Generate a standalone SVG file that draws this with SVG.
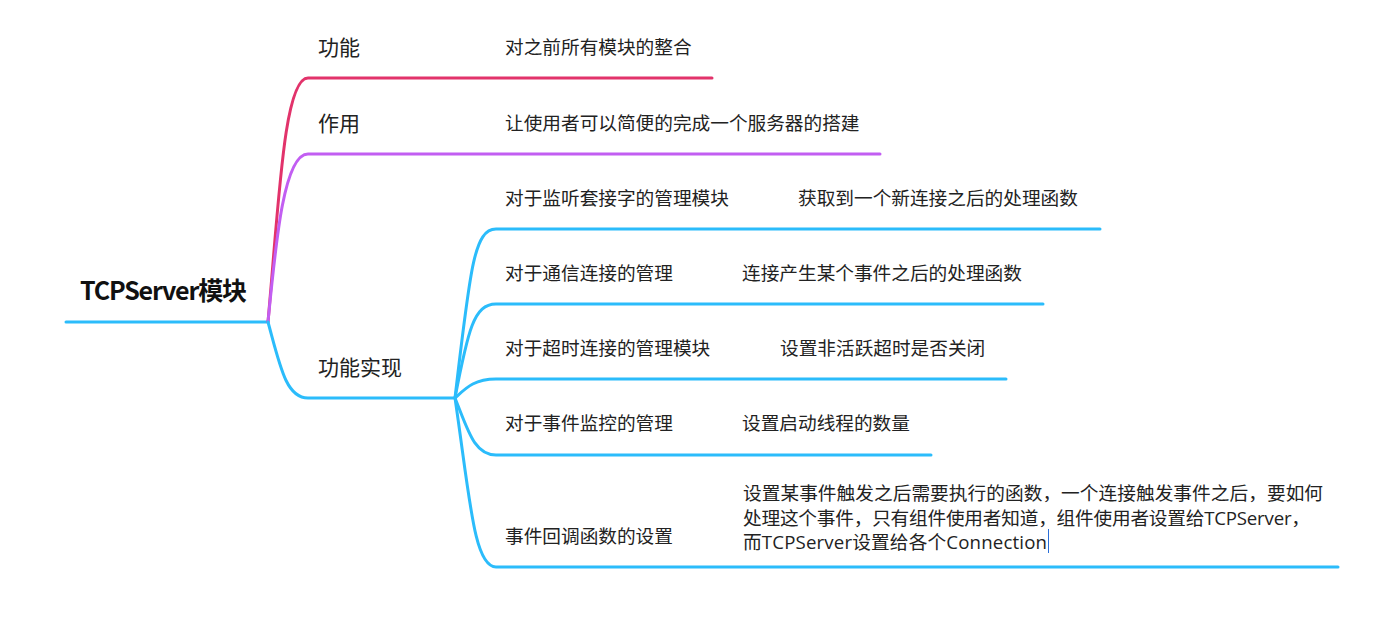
<svg xmlns="http://www.w3.org/2000/svg" width="1397" height="626" viewBox="0 0 1397 626">
<style>
text{font-family:"Open Sans","Noto Sans CJK SC",sans-serif;font-size:18.67px;fill:#222}
.root{font-family:"Noto Sans CJK SC",sans-serif;font-size:25px;font-weight:bold;fill:#111}
.l1{font-size:21px}
.c{fill:none;stroke-width:3;stroke-linecap:round;stroke-linejoin:round}
.red{stroke:#E2336B}
.pur{stroke:#C25EF2}
.blu{stroke:#2BBCFB}
</style>
<rect width="1397" height="626" fill="#fff"/>
<g id="connectors">
<path class="c blu" d="M66,322 H268"/>
<path class="c red" d="M268,322 C279,200 284,78 308,78 H712"/>
<path class="c pur" d="M268,322 C276,240 284,154 308,154 H880"/>
<path class="c blu" d="M268,322 C280,366 286,398 308,398 H455"/>
<path class="c blu" d="M455,398 C470,270 474,229 496,229 H1100"/>
<path class="c blu" d="M455,398 C468,330 474,304 496,304 H1043"/>
<path class="c blu" d="M455,398 C466,388 474,379 496,379 H1006"/>
<path class="c blu" d="M455,398 C468,430 474,455 496,455 H931"/>
<path class="c blu" d="M455,398 C470,500 474,567 496,567 H1338"/>
</g>
<g id="root"><text class="root" x="80" y="300" textLength="167">TCPServer模块</text></g>
<g id="n-gongneng"><text class="l1" x="318" y="55">功能</text></g>
<g id="n-gongneng-d"><text x="505" y="54">对之前所有模块的整合</text></g>
<g id="n-zuoyong"><text class="l1" x="318" y="131">作用</text></g>
<g id="n-zuoyong-d"><text x="505" y="130">让使用者可以简便的完成一个服务器的搭建</text></g>
<g id="n-shixian"><text class="l1" x="318" y="375">功能实现</text></g>
<g id="n-jianting"><text x="505" y="205">对于监听套接字的管理模块</text><text x="798" y="205">获取到一个新连接之后的处理函数</text></g>
<g id="n-tongxin"><text x="505" y="280">对于通信连接的管理</text><text x="742" y="280">连接产生某个事件之后的处理函数</text></g>
<g id="n-chaoshi"><text x="505" y="355">对于超时连接的管理模块</text><text x="780" y="355">设置非活跃超时是否关闭</text></g>
<g id="n-jiankong"><text x="505" y="430">对于事件监控的管理</text><text x="742" y="430">设置启动线程的数量</text></g>
<g id="n-huidiao"><text x="505" y="543">事件回调函数的设置</text>
<text x="743" y="500" textLength="580">设置某事件触发之后需要执行的函数，一个连接触发事件之后，要如何</text>
<text x="743" y="525" textLength="567">处理这个事件，只有组件使用者知道，组件使用者设置给TCPServer，</text>
<text x="743" y="549" textLength="304">而TCPServer设置给各个Connection</text>
<line x1="1048.5" y1="529" x2="1048.5" y2="553" stroke="#2a6ed8" stroke-width="1"/>
</g>
</svg>
